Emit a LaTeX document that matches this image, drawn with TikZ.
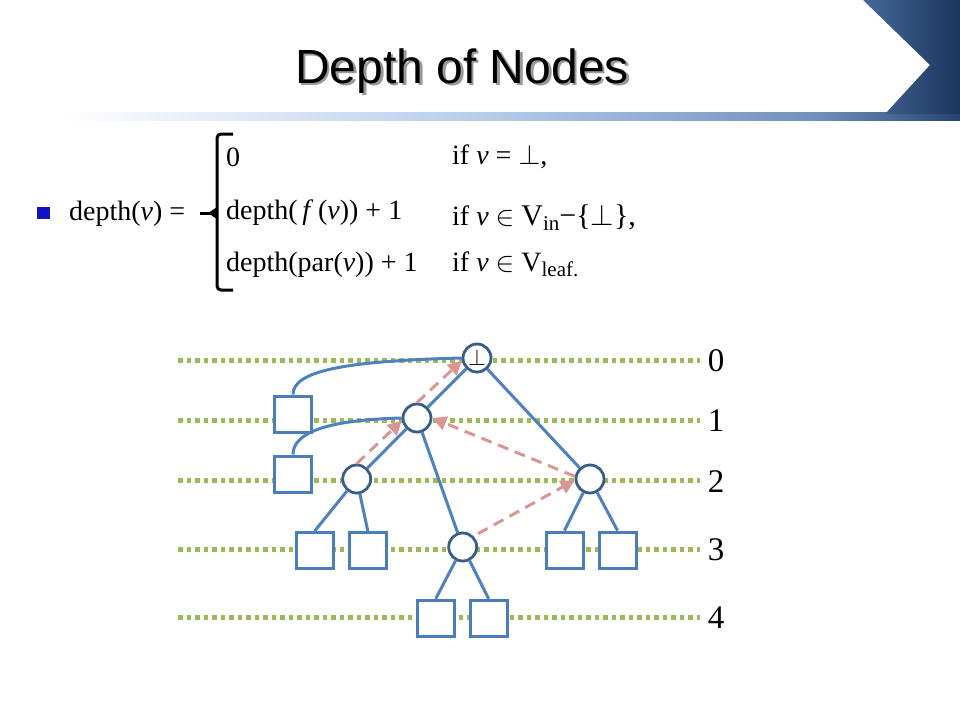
\documentclass[tikz,border=0pt]{standalone}
\usepackage{fix-cm}
\usepackage{fontspec}
\setmainfont{Liberation Serif}
\newfontfamily\titlefont{Liberation Sans}
\usetikzlibrary{arrows.meta,calc}
\definecolor{edgeblue}{HTML}{4F81BD}
\definecolor{circborder}{HTML}{385D8A}
\definecolor{sqborder}{HTML}{4A7EBB}
\definecolor{levelgreen}{HTML}{9BBB59}
\definecolor{arrowpink}{HTML}{D99694}
\definecolor{barA}{HTML}{B7CDEC}
\definecolor{barB}{HTML}{6F8FBA}
\definecolor{barC}{HTML}{25436F}
\definecolor{blockL}{HTML}{46689A}
\definecolor{blockR}{HTML}{1B355D}
\definecolor{bulletblue}{HTML}{1212C0}
\begin{document}
\begin{tikzpicture}[x=1pt,y=-1pt,
  titletxt/.style={font=\titlefont\fontsize{48}{52}\selectfont, inner sep=0, anchor=base},
  ftxt/.style={font=\fontsize{28}{32}\selectfont, inner sep=0, anchor=base west},
  lvltxt/.style={font=\fontsize{33}{36}\selectfont, inner sep=0, anchor=center},
  levelline/.style={draw=levelgreen, line width=5pt, dash pattern=on 4.5pt off 4pt},
  edge/.style={draw=edgeblue, line width=3pt},
  circ/.style={circle, draw=circborder, fill=white, line width=2.8pt, minimum size=28pt, inner sep=0},
  sq/.style={rectangle, draw=sqborder, fill=white, line width=3pt, minimum width=37pt, minimum height=36pt, inner sep=0},
  dasharr/.style={draw=arrowpink, line width=3pt, dash pattern=on 11pt off 7pt, -{Triangle[length=14pt,width=14pt]}},
  bulletsq/.style={rectangle, fill=bulletblue, minimum width=13pt, minimum height=12pt, inner sep=0}
]
\useasboundingbox (0,0) rectangle (960,720);
\fill[white] (0,0) rectangle (960,720);
% header bar and block
\shade[left color=white, right color=barA] (57,112) rectangle (480.5,120);
\shade[left color=barA, right color=barB] (480,112) rectangle (820.5,120);
\shade[left color=barB, right color=barC] (820,112) rectangle (960,120);
\shade[left color=blockL, right color=blockR] (863,0) -- (960,0) -- (960,114) -- (885,114) -- (930,65) -- cycle;
% title with shadow
\node[titletxt] (title) at (462,83) {\makebox[0pt][l]{\hspace{2.5pt}\raisebox{-2.5pt}{\color{black!40}Depth of Nodes}}Depth of Nodes};
% formula
\node[bulletsq] (bullet) at (43.5,213) {};
\node[ftxt] (lhs) at (69,220) {depth(\textit{v}) =};
\draw[line width=3pt, rounded corners=4pt] (233,134) -- (217,134) -- (217,290) -- (233,290);
\draw[line width=3pt] (217,213) -- (200,213);
\fill (217,207) -- (208,213) -- (217,219) -- cycle;
\node[ftxt] (c1) at (226,166.7) {0};
\node[ftxt] (c2) at (226,219) {depth(\,\textit{f}\,(\textit{v})) + 1};
\node[ftxt] (c3) at (226,271.7) {depth(par(\textit{v})) + 1};
\node[ftxt] (r1) at (452,164.3) {if \textit{v} = $\bot$,};
\node[ftxt] (r2) at (452,225) {if \textit{v} $\in$ {\fontsize{30}{34}\selectfont V\raisebox{-5pt}{\fontsize{21}{21}\selectfont in}−\{$\bot$\},}};
\node[ftxt] (r3) at (452,271) {if \textit{v} $\in$ V\raisebox{-5pt}{\fontsize{21}{21}\selectfont leaf.}};
% level lines
\foreach \y/\n in {360/0,420/1,480.7/2,549/3,617/4}{
  \coordinate (la\n) at (178,\y);
  \coordinate (lb\n) at (700,\y);
  \draw[levelline] (la\n) -- (lb\n);
  \node[lvltxt] (lab\n) at (716,\y+1) {\n};
}
% tree nodes
\node[circ, font=\fontsize{23}{23}\selectfont] (R) at (477,358) {$\bot$};
\node[circ] (A) at (417,418) {};
\node[circ] (B) at (356.7,479) {};
\node[circ] (C) at (590,479) {};
\node[circ] (D) at (462.7,547) {};
\node[sq] (S1) at (293,414) {};
\node[sq] (S2) at (293,474) {};
\node[sq] (S3) at (314.7,550.5) {};
\node[sq] (S4) at (367.8,550.5) {};
\node[sq] (S5) at (564.5,550) {};
\node[sq] (S6) at (617.5,550) {};
\node[sq] (S7) at (435.7,618.3) {};
\node[sq] (S8) at (488.7,618.3) {};
% edges
\draw[edge] (R) -- (A);
\draw[edge] (R) -- (C);
\draw[edge] (A) -- (B);
\draw[edge] (A) -- (D);
\draw[edge] (B) -- (S3.north);
\draw[edge] (B) -- (S4.north);
\draw[edge] (C) -- (S5.north);
\draw[edge] (C) -- (S6.north);
\draw[edge] (D) -- (S7.north);
\draw[edge] (D) -- (S8.north);
\draw[edge] (S1.north) .. controls ($(S1.north)+(0,-23)$) and ($(R.west)+(-120,3)$) .. (R.west);
\draw[edge] (S2.north) .. controls ($(S2.north)+(0,-20)$) and ($(A.west)+(-80,2)$) .. (A.west);
% dashed arrows
\draw[dasharr] (B.north) -- (A.190);
\draw[dasharr] (A.north) -- (R.190);
\draw[dasharr] (C.170) -- (A.east);
\draw[dasharr, shorten <=5pt] (D.45) -- (C.185);
\end{tikzpicture}
\end{document}
